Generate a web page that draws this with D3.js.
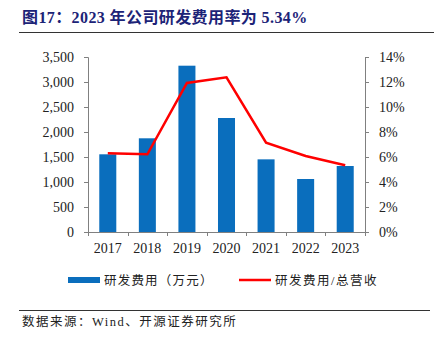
<!DOCTYPE html>
<html>
<head>
<meta charset="utf-8">
<script src="https://cdn.jsdelivr.net/npm/d3@7"></script>
<style>
  html, body { margin: 0; padding: 0; background: #fff; }
  svg { display: block; }
  text { font-family: "Liberation Serif", "Noto Sans CJK SC", serif; }
</style>
</head>
<body>
<svg id="chart" width="434" height="339"></svg>
<script>
// R&D spend (10k CNY) and R&D / revenue ratio, 2017–2023
const years = ["2017", "2018", "2019", "2020", "2021", "2022", "2023"];
const rdExpense = [1554, 1874, 3326, 2280, 1453, 1060, 1320];
const rdRatio = [6.30, 6.22, 11.92, 12.37, 7.15, 6.08, 5.34];
const leftTicks = [0, 500, 1000, 1500, 2000, 2500, 3000, 3500];
const rightTicks = [0, 2, 4, 6, 8, 10, 12, 14];
const titleText = "图17：2023 年公司研发费用率为 5.34%";
const legendBar = "研发费用（万元）";
const legendLine = "研发费用/总营收";
const sourceText = "数据来源：Wind、开源证券研究所";

const svg = d3.select("#chart");
const plot = { left: 88, right: 365, top: 57, bottom: 232 };
const axisColor = "#808080";

// Title and rule lines
svg.append("text").attr("x", 22).attr("y", 23)
  .attr("fill", "#1c2377").attr("font-size", 16).attr("font-weight", "bold")
  .attr("letter-spacing", 0.4)
  .text(titleText);
svg.append("line").attr("x1", 19).attr("x2", 434).attr("y1", 32.5).attr("y2", 32.5)
  .attr("stroke", "#333").attr("stroke-width", 1);
svg.append("line").attr("x1", 19).attr("x2", 430).attr("y1", 310.5).attr("y2", 310.5)
  .attr("stroke", "#333").attr("stroke-width", 1);
svg.append("text").attr("x", 22).attr("y", 326)
  .attr("fill", "#222").attr("font-size", 12.5).attr("letter-spacing", 1.5).text(sourceText);

// Scales
const x = d3.scaleBand().domain(years).range([plot.left, plot.right]).paddingInner(0.57).paddingOuter(0.285);
const xBand = d3.scaleBand().domain(years).range([plot.left, plot.right]);
const yL = d3.scaleLinear().domain([0, 3500]).range([plot.bottom, plot.top]);
const yR = d3.scaleLinear().domain([0, 14]).range([plot.bottom, plot.top]);

// Bars
svg.append("g").selectAll("rect").data(years).join("rect")
  .attr("x", d => x(d)).attr("width", x.bandwidth())
  .attr("y", (d, i) => yL(rdExpense[i]))
  .attr("height", (d, i) => plot.bottom - yL(rdExpense[i]))
  .attr("fill", "#0a6ebd");

// Ratio line
const line = d3.line()
  .x((d, i) => xBand(years[i]) + xBand.bandwidth() / 2)
  .y(d => yR(d));
svg.append("path").datum(rdRatio).attr("d", line)
  .attr("fill", "none").attr("stroke", "#ff0000").attr("stroke-width", 2.5)
  .attr("stroke-linejoin", "miter");

// Axes
function styleAxis(g) {
  g.selectAll("path.domain").attr("stroke", axisColor);
  g.selectAll(".tick line").attr("stroke", axisColor);
  g.selectAll(".tick text").attr("fill", "#222").attr("font-size", 14)
    .attr("font-family", "Liberation Serif, serif");
}
svg.append("g").attr("transform", `translate(${plot.left},0)`)
  .call(d3.axisLeft(yL).tickValues(leftTicks).tickFormat(d3.format(",")).tickSize(4).tickSizeOuter(4).tickPadding(10))
  .call(styleAxis);
svg.append("g").attr("transform", `translate(${plot.right},0)`)
  .call(d3.axisRight(yR).tickValues(rightTicks).tickFormat(d => d + "%").tickSize(4).tickSizeOuter(4).tickPadding(10))
  .call(styleAxis);

// Category axis with tick marks at band boundaries
const xg = svg.append("g").attr("transform", `translate(0,${plot.bottom})`);
xg.append("line").attr("x1", plot.left).attr("x2", plot.right).attr("y1", 0.5).attr("y2", 0.5)
  .attr("stroke", axisColor);
const bounds = years.map(d => xBand(d)).concat([plot.right]);
xg.selectAll("line.tk").data(bounds).join("line").attr("class", "tk")
  .attr("x1", d => Math.round(d) + 0.5).attr("x2", d => Math.round(d) + 0.5)
  .attr("y1", 0).attr("y2", 4).attr("stroke", axisColor);
xg.selectAll("text").data(years).join("text")
  .attr("x", d => xBand(d) + xBand.bandwidth() / 2).attr("y", 21)
  .attr("text-anchor", "middle").attr("font-size", 14).attr("fill", "#222")
  .text(d => d);

// Legend
const lg = svg.append("g");
lg.append("rect").attr("x", 68).attr("y", 277).attr("width", 32).attr("height", 6).attr("fill", "#0a6ebd");
lg.append("text").attr("x", 104).attr("y", 284.5).attr("font-size", 12.5).attr("letter-spacing", 1.2)
  .attr("fill", "#222").text(legendBar);
lg.append("line").attr("x1", 239).attr("x2", 271).attr("y1", 280).attr("y2", 280)
  .attr("stroke", "#ff0000").attr("stroke-width", 2.5);
lg.append("text").attr("x", 275).attr("y", 284.5).attr("font-size", 12.5).attr("letter-spacing", 1.5)
  .attr("fill", "#222").text(legendLine);
</script>
</body>
</html>
